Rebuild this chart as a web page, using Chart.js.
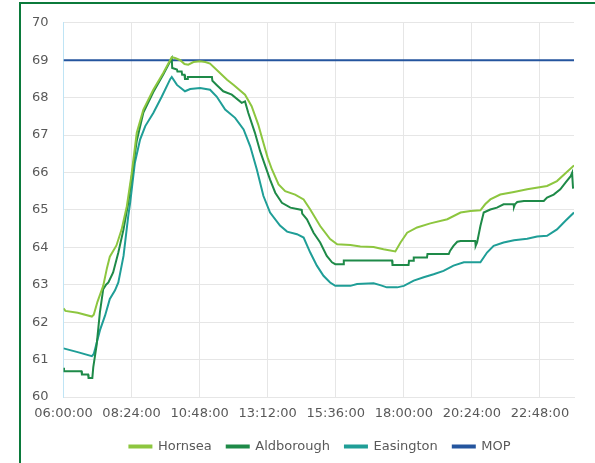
<!DOCTYPE html>
<html>
<head>
<meta charset="utf-8">
<script src="https://cdn.jsdelivr.net/npm/chart.js@4/dist/chart.umd.min.js"></script>
<style>
  html, body { margin: 0; padding: 0; background: #ffffff; overflow: hidden; }
  #wrap { position: relative; width: 595px; height: 463px; }
  #frame { position: absolute; left: 19px; top: 2px; right: -4px; bottom: -4px; border-left: 2px solid #0b7a3b; border-top: 2px solid #0b7a3b; pointer-events: none; }
  canvas { position: absolute; left: 0; top: 0; }
</style>
</head>
<body>
<div id="wrap">
  <canvas id="c" width="595" height="463"></canvas>
  <div id="frame"></div>
</div>
<script>
// ---- data (time of day, value) ----
const seriesNames = ["Hornsea", "Aldborough", "Easington", "MOP"];

const hornseaTimes = ["06:00","06:04","06:30","07:00","07:04","07:12","07:24","07:32","07:38","07:52","08:03","08:14","08:24","08:35","08:49","09:10","09:31","09:49","09:56","10:07","10:16","10:24","10:35","10:49","11:00","11:10","11:31","11:46","12:00","12:24","12:38","12:52","13:03","13:12","13:21","13:35","13:49","14:10","14:28","14:42","15:03","15:24","15:39","16:07","16:28","16:56","17:17","17:42","17:53","18:07","18:28","18:56","19:32","20:00","20:21","20:42","20:52","21:03","21:24","21:53","22:21","23:03","23:24","23:42","24:00"];
const hornseaValues = [62.37,62.30,62.25,62.15,62.20,62.55,62.97,63.45,63.75,64.05,64.48,65.10,65.95,67.06,67.68,68.21,68.66,69.08,69.06,69.00,68.90,68.88,68.95,68.97,68.95,68.91,68.66,68.48,68.34,68.08,67.77,67.28,66.79,66.39,66.08,65.68,65.50,65.41,65.28,65.01,64.57,64.22,64.08,64.06,64.02,64.01,63.95,63.89,64.13,64.39,64.53,64.64,64.75,64.93,64.97,64.99,65.15,65.28,65.41,65.48,65.55,65.64,65.77,65.98,66.19];

const aldboroughTimes = ["06:00","06:01","06:38","06:39","06:52","06:53","07:01","07:03","07:10","07:17","07:24","07:30","07:35","07:45","07:56","08:07","08:17","08:25","08:35","08:49","09:10","09:31","09:49","09:50","10:00","10:01","10:10","10:11","10:16","10:17","10:22","10:23","11:14","11:15","11:24","11:38","11:56","12:17","12:24","12:31","12:45","12:56","13:07","13:17","13:28","13:42","14:00","14:24","14:25","14:35","14:49","15:03","15:17","15:28","15:35","15:52","15:53","17:35","17:36","18:10","18:11","18:20","18:21","18:49","18:50","19:35","19:38","19:45","19:53","20:00","20:31","20:32","20:35","20:42","20:49","20:56","21:03","21:17","21:31","21:52","21:53","21:55","22:00","22:14","22:56","23:03","23:17","23:31","23:42","23:53","23:56","23:58"];
const aldboroughValues = [60.78,60.69,60.69,60.60,60.60,60.51,60.51,60.80,61.38,62.26,62.88,63.00,63.06,63.33,63.86,64.48,65.19,65.95,66.85,67.60,68.15,68.62,69.05,68.79,68.75,68.70,68.70,68.61,68.61,68.50,68.50,68.55,68.55,68.45,68.34,68.17,68.08,67.86,67.90,67.59,67.06,66.57,66.17,65.81,65.46,65.19,65.06,65.00,64.90,64.75,64.39,64.13,63.77,63.60,63.55,63.55,63.65,63.65,63.53,63.53,63.64,63.64,63.73,63.73,63.82,63.82,63.91,64.04,64.15,64.17,64.17,64.04,64.13,64.57,64.93,64.97,65.01,65.06,65.15,65.15,65.08,65.15,65.21,65.24,65.24,65.33,65.41,65.55,65.73,65.90,65.99,65.57];

const easingtonTimes = ["06:00","06:30","07:00","07:04","07:07","07:17","07:28","07:38","07:49","07:56","08:07","08:17","08:21","08:31","08:42","08:53","09:10","09:28","09:46","09:49","10:00","10:17","10:28","10:49","11:10","11:24","11:42","12:03","12:21","12:35","12:49","13:03","13:17","13:38","13:53","14:14","14:28","14:42","14:56","15:10","15:24","15:35","16:07","16:21","16:56","17:10","17:24","17:46","18:00","18:21","18:42","19:03","19:24","19:45","20:07","20:42","20:56","21:10","21:31","21:53","22:21","22:42","23:03","23:24","23:42","24:00"];
const easingtonValues = [61.30,61.20,61.09,61.15,61.29,61.78,62.18,62.62,62.85,63.06,63.77,64.84,65.19,66.26,66.88,67.24,67.59,68.03,68.50,68.55,68.34,68.17,68.23,68.26,68.21,68.03,67.68,67.46,67.15,66.70,66.08,65.37,64.93,64.58,64.42,64.35,64.26,63.86,63.51,63.24,63.06,62.97,62.97,63.02,63.04,62.99,62.93,62.93,62.97,63.11,63.20,63.28,63.37,63.51,63.60,63.60,63.86,64.04,64.13,64.19,64.23,64.29,64.31,64.48,64.71,64.93];

const mopTimes = ["06:00","24:00"];
const mopValues = [69, 69];

const yTicks = [60, 61, 62, 63, 64, 65, 66, 67, 68, 69, 70];
const xStart = "06:00", xEnd = "24:00", xStepMinutes = 144;

// ---- helpers ----
const toMinBase = 6 * 60;
function toMin(t) { const p = t.split(":"); return (+p[0]) * 60 + (+p[1]) - toMinBase; }
function pairs(times, vals) { return times.map((t, i) => ({ x: toMin(t), y: vals[i] })); }
function fmt(m) {
  const tot = Math.round(m) + toMinBase;
  const h = Math.floor(tot / 60), mm = tot % 60;
  return String(h).padStart(2, "0") + ":" + String(mm).padStart(2, "0") + ":00";
}

const colors = ["#8dc63f", "#1e8a48", "#1f9e97", "#24559e"];
const seriesData = [
  pairs(hornseaTimes, hornseaValues),
  pairs(aldboroughTimes, aldboroughValues),
  pairs(easingtonTimes, easingtonValues),
  pairs(mopTimes, mopValues)
];

const legendShift = {
  id: "legendShift",
  afterLayout(chart) {
    const lg = chart.legend;
    if (lg) { lg.left += 33; lg.right += 33; }
  }
};

const FONT = "'DejaVu Sans', sans-serif";

new Chart(document.getElementById("c"), {
  type: "line",
  data: {
    datasets: seriesNames.map((n, i) => ({
      label: n,
      data: seriesData[i],
      borderColor: colors[i],
      backgroundColor: colors[i],
      borderWidth: 2,
      pointRadius: 0,
      tension: 0,
      fill: false
    }))
  },
  options: {
    responsive: false,
    animation: false,
    events: [],
    layout: { padding: { left: 0, right: 21, top: 17.5, bottom: 0 } },
    plugins: {
      tooltip: { enabled: false },
      legend: {
        position: "bottom",
        labels: {
          boxWidth: 22,
          boxHeight: 2,
          padding: 15,
          color: "#595959",
          font: { family: FONT, size: 13 }
        }
      }
    },
    scales: {
      x: {
        type: "linear",
        min: toMin(xStart),
        max: toMin(xEnd),
        grid: { color: "#e6e6e6", lineWidth: 1, drawTicks: false },
        border: { color: "#e6e6e6" },
        ticks: {
          stepSize: xStepMinutes,
          includeBounds: false,
          autoSkip: false,
          maxRotation: 0,
          padding: 9,
          color: "#595959",
          font: { family: FONT, size: 13 },
          callback: v => fmt(v)
        },
        afterFit(s) { s.height = 28; }
      },
      y: {
        min: yTicks[0],
        max: yTicks[yTicks.length - 1],
        afterBuildTicks(s) { s.ticks = yTicks.map(v => ({ value: v })); },
        grid: { color: "#e6e6e6", lineWidth: 1, drawTicks: false },
        border: { color: "#bfe4f5" },
        ticks: {
          padding: 15,
          color: "#595959",
          font: { family: FONT, size: 13 }
        },
        afterFit(s) { s.width = 63.5; }
      }
    }
  },
  plugins: [legendShift]
});
</script>
</body>
</html>
